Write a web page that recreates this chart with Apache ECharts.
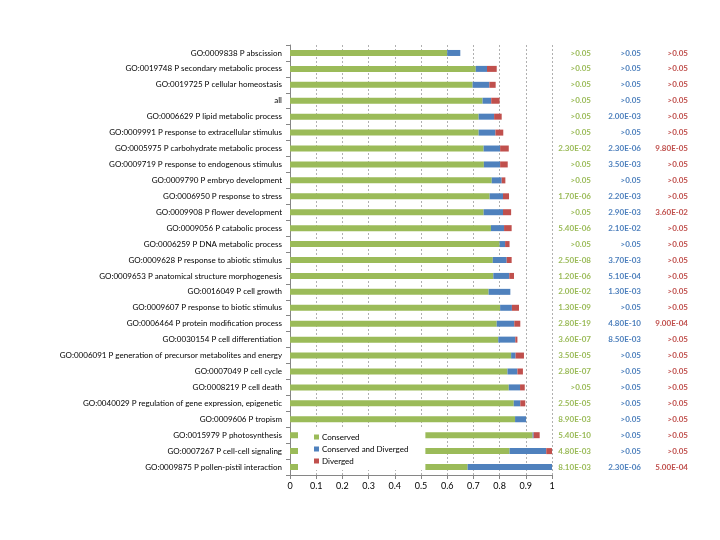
<!DOCTYPE html>
<html>
<head>
<meta charset="utf-8">
<script src="https://cdn.jsdelivr.net/npm/echarts@6/dist/echarts.min.js"></script>
<style>html,body{margin:0;padding:0;background:#fff}#c{width:720px;height:540px}</style>
</head>
<body>
<div id="c"></div>
<script>
const categories = [
'GO:0009838 P abscission',
'GO:0019748 P secondary metabolic process',
'GO:0019725 P cellular homeostasis',
'all',
'GO:0006629 P lipid metabolic process',
'GO:0009991 P response to extracellular stimulus',
'GO:0005975 P carbohydrate metabolic process',
'GO:0009719 P response to endogenous stimulus',
'GO:0009790 P embryo development',
'GO:0006950 P response to stress',
'GO:0009908 P flower development',
'GO:0009056 P catabolic process',
'GO:0006259 P DNA metabolic process',
'GO:0009628 P response to abiotic stimulus',
'GO:0009653 P anatomical structure morphogenesis',
'GO:0016049 P cell growth',
'GO:0009607 P response to biotic stimulus',
'GO:0006464 P protein modification process',
'GO:0030154 P cell differentiation',
'GO:0006091 P generation of precursor metabolites and energy',
'GO:0007049 P cell cycle',
'GO:0008219 P cell death',
'GO:0040029 P regulation of gene expression, epigenetic',
'GO:0009606 P tropism',
'GO:0015979 P photosynthesis',
'GO:0007267 P cell-cell signaling',
'GO:0009875 P pollen-pistil interaction'
];
const conserved = [0.600,0.709,0.697,0.735,0.720,0.720,0.739,0.740,0.770,0.762,0.739,0.767,0.800,0.774,0.776,0.758,0.802,0.789,0.795,0.844,0.830,0.835,0.854,0.859,0.926,0.838,0.678];
const conservedDiverged = [0.050,0.043,0.064,0.033,0.059,0.064,0.063,0.062,0.038,0.051,0.074,0.050,0.021,0.053,0.061,0.083,0.045,0.067,0.065,0.017,0.038,0.043,0.025,0.042,0.004,0.140,0.322];
const diverged = [0,0.037,0.024,0.032,0.029,0.030,0.033,0.029,0.014,0.023,0.031,0.029,0.017,0.019,0.018,0,0.027,0.023,0.008,0.032,0.021,0.018,0.019,0,0.023,0.022,0];
const pConserved = ['>0.05','>0.05','>0.05','>0.05','>0.05','>0.05','2.30E-02','>0.05','>0.05','1.70E-06','>0.05','5.40E-06','>0.05','2.50E-08','1.20E-06','2.00E-02','1.30E-09','2.80E-19','3.60E-07','3.50E-05','2.80E-07','>0.05','2.50E-05','8.90E-03','5.40E-10','4.80E-03','8.10E-03'];
const pConsDiv = ['>0.05','>0.05','>0.05','>0.05','2.00E-03','>0.05','2.30E-06','3.50E-03','>0.05','2.20E-03','2.90E-03','2.10E-02','>0.05','3.70E-03','5.10E-04','1.30E-03','>0.05','4.80E-10','8.50E-03','>0.05','>0.05','>0.05','>0.05','>0.05','>0.05','>0.05','2.30E-06'];
const pDiverged = ['>0.05','>0.05','>0.05','>0.05','>0.05','>0.05','9.80E-05','>0.05','>0.05','>0.05','3.60E-02','>0.05','>0.05','>0.05','>0.05','>0.05','>0.05','9.00E-04','>0.05','>0.05','>0.05','>0.05','>0.05','>0.05','>0.05','>0.05','5.00E-04'];
const xTicks = [0,0.1,0.2,0.3,0.4,0.5,0.6,0.7,0.8,0.9,1];

const FONT = 'Lato';
const GREEN = '#9BBB59', BLUE = '#4F81BD', RED = '#C0504D';

function pAxis(data, color, offset) {
  return {
    type: 'category', data: data, inverse: true, position: 'right', offset: offset,
    axisLine: {show: false}, axisTick: {show: false}, splitLine: {show: false},
    axisLabel: {interval: 0, align: 'right', margin: 0, color: color, fontFamily: FONT, fontSize: 8, fontWeight: 'bold'}
  };
}

const chart = echarts.init(document.getElementById('c'), null, {renderer: 'canvas'});
chart.setOption({
  animation: false,
  backgroundColor: '#fff',
  textStyle: {fontFamily: FONT},
  grid: {left: 290, right: 168, top: 45, bottom: 65, containLabel: false},
  legend: {
    orient: 'vertical', left: 298, top: 428,
    backgroundColor: '#fff', padding: [5, 17, 5, 16],
    itemWidth: 5, itemHeight: 5, itemGap: 4,
    icon: 'rect',
    textStyle: {fontFamily: FONT, fontSize: 8, color: '#000', padding: [0,0,0,-2]},
    data: ['Conserved', 'Conserved and Diverged', 'Diverged']
  },
  xAxis: {
    type: 'value', min: 0, max: 1, interval: 0.1,
    axisLine: {show: true, lineStyle: {color: '#868686'}},
    axisTick: {show: true, length: 4, lineStyle: {color: '#868686'}},
    axisLabel: {color: '#000', fontFamily: FONT, fontSize: 9, margin: 7,
      customValues: xTicks,
      formatter: v => String(Math.round(v * 10) / 10)},
    splitLine: {show: true, lineStyle: {color: '#b0b0b0', type: [2, 2], width: 1}}
  },
  yAxis: [
    {
      type: 'category', data: categories, inverse: true,
      axisLine: {show: true, lineStyle: {color: '#868686'}},
      axisTick: {show: true, length: 4, lineStyle: {color: '#868686'}},
      axisLabel: {interval: 0, color: '#000', fontFamily: FONT, fontSize: 8, margin: 8}
    },
    pAxis(pConserved, GREEN, 39),
    pAxis(pConsDiv, BLUE, 89),
    pAxis(pDiverged, RED, 136)
  ],
  series: [
    {name: 'Conserved', type: 'bar', stack: 's', data: conserved, barWidth: 6, itemStyle: {color: GREEN}},
    {name: 'Conserved and Diverged', type: 'bar', stack: 's', data: conservedDiverged, barWidth: 6, itemStyle: {color: BLUE}},
    {name: 'Diverged', type: 'bar', stack: 's', data: diverged, barWidth: 6, itemStyle: {color: RED}}
  ]
});
</script>
</body>
</html>
